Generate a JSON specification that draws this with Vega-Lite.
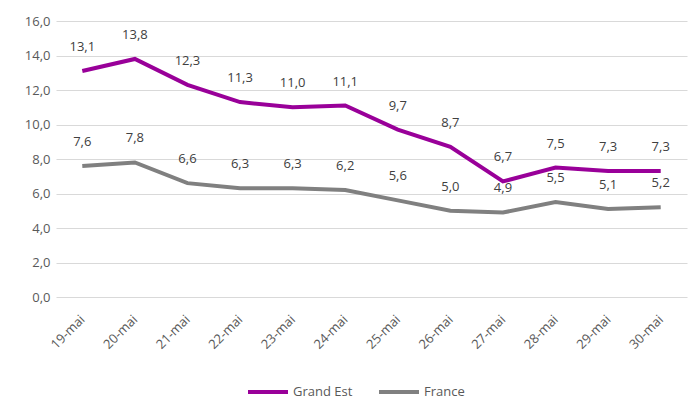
{
  "$schema": "https://vega.github.io/schema/vega-lite/v6.json",
  "width": 631,
  "height": 276,
  "autosize": {"type": "none"},
  "padding": {"left": 56, "top": 21, "right": 13, "bottom": 117},
  "background": "white",
  "config": {
    "locale": {"number": {"decimal": ",", "thousands": " ", "grouping": [3], "currency": ["", " €"]}},
    "view": {"stroke": null},
    "font": "Open Sans"
  },
  "data": {
    "values": [
      {"jour": "19-mai", "serie": "Grand Est", "valeur": 13.1},
      {"jour": "20-mai", "serie": "Grand Est", "valeur": 13.8},
      {"jour": "21-mai", "serie": "Grand Est", "valeur": 12.3},
      {"jour": "22-mai", "serie": "Grand Est", "valeur": 11.3},
      {"jour": "23-mai", "serie": "Grand Est", "valeur": 11.0},
      {"jour": "24-mai", "serie": "Grand Est", "valeur": 11.1},
      {"jour": "25-mai", "serie": "Grand Est", "valeur": 9.7},
      {"jour": "26-mai", "serie": "Grand Est", "valeur": 8.7},
      {"jour": "27-mai", "serie": "Grand Est", "valeur": 6.7},
      {"jour": "28-mai", "serie": "Grand Est", "valeur": 7.5},
      {"jour": "29-mai", "serie": "Grand Est", "valeur": 7.3},
      {"jour": "30-mai", "serie": "Grand Est", "valeur": 7.3},
      {"jour": "19-mai", "serie": "France", "valeur": 7.6},
      {"jour": "20-mai", "serie": "France", "valeur": 7.8},
      {"jour": "21-mai", "serie": "France", "valeur": 6.6},
      {"jour": "22-mai", "serie": "France", "valeur": 6.3},
      {"jour": "23-mai", "serie": "France", "valeur": 6.3},
      {"jour": "24-mai", "serie": "France", "valeur": 6.2},
      {"jour": "25-mai", "serie": "France", "valeur": 5.6},
      {"jour": "26-mai", "serie": "France", "valeur": 5.0},
      {"jour": "27-mai", "serie": "France", "valeur": 4.9},
      {"jour": "28-mai", "serie": "France", "valeur": 5.5},
      {"jour": "29-mai", "serie": "France", "valeur": 5.1},
      {"jour": "30-mai", "serie": "France", "valeur": 5.2}
    ]
  },
  "encoding": {
    "x": {
      "field": "jour", "type": "ordinal", "sort": null,
      "scale": {"type": "point", "padding": 0.5},
      "axis": {
        "title": null, "labelAngle": -45, "labelAlign": "right", "labelBaseline": "middle",
        "labelFontSize": 13, "labelColor": "#595959", "ticks": false, "domain": false,
        "grid": false, "labelPadding": 20
      }
    },
    "y": {
      "field": "valeur", "type": "quantitative",
      "scale": {"domain": [0, 16], "nice": false},
      "axis": {
        "title": null, "values": [0, 2, 4, 6, 8, 10, 12, 14, 16], "format": ".1f",
        "labelFontSize": 13, "labelColor": "#595959", "ticks": false, "domain": false,
        "gridColor": "#d9d9d9", "gridWidth": 1, "labelPadding": 6
      }
    },
    "color": {
      "field": "serie", "type": "nominal",
      "scale": {"domain": ["Grand Est", "France"], "range": ["#990099", "#808080"]},
      "legend": {
        "title": null, "orient": "none", "direction": "horizontal",
        "legendX": 190, "legendY": 349,
        "symbolType": "stroke", "symbolSize": 1600, "symbolStrokeWidth": 4,
        "labelFontSize": 13, "labelColor": "#595959", "labelOffset": 3, "columnPadding": 18
      }
    }
  },
  "layer": [
    {"mark": {"type": "line", "strokeWidth": 4}},
    {
      "mark": {"type": "text", "dy": -24, "fontSize": 13, "color": "#404040", "baseline": "middle"},
      "encoding": {
        "text": {"field": "valeur", "type": "quantitative", "format": ".1f"},
        "color": {"value": "#404040"}
      }
    }
  ]
}
